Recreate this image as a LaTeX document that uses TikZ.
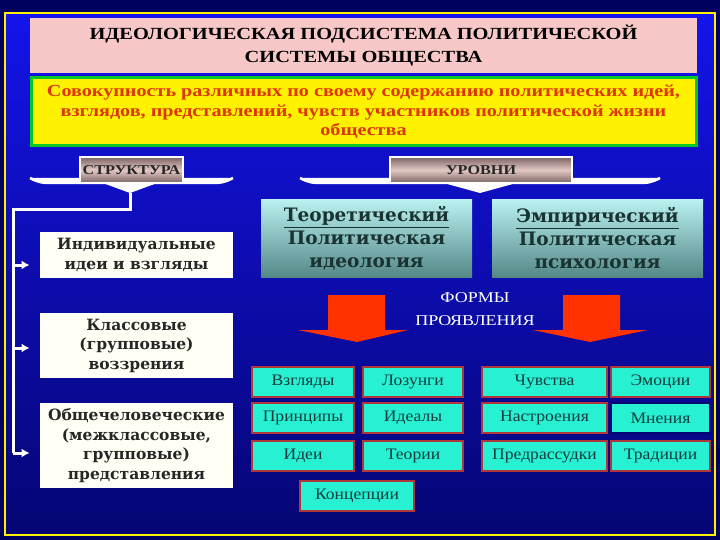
\documentclass[tikz,border=0pt]{standalone}
\usepackage{fontspec}
\setmainfont{Liberation Serif}
\newfontfamily\wideserif[FakeStretch=1.2]{Liberation Serif}
\newfontfamily\cellserif[FakeStretch=1.1]{Liberation Serif}
\newfontfamily\slabserif{DejaVu Serif}
\usetikzlibrary{arrows.meta}
\definecolor{outerblue}{RGB}{0,0,95}
\definecolor{topblue}{RGB}{20,20,235}
\definecolor{botblue}{RGB}{5,5,115}
\definecolor{titlepink}{RGB}{248,200,200}
\definecolor{defgreen}{RGB}{0,200,40}
\definecolor{deftext}{RGB}{220,55,0}
\definecolor{tabdark}{RGB}{125,100,100}
\definecolor{tablight}{RGB}{225,200,195}
\definecolor{boxcream}{RGB}{255,255,245}
\definecolor{levtop}{RGB}{185,240,240}
\definecolor{levbot}{RGB}{85,135,135}
\definecolor{levtext}{RGB}{25,50,50}
\definecolor{arrred}{RGB}{255,50,0}
\definecolor{cellcyan}{RGB}{40,240,210}
\definecolor{cellred}{RGB}{175,55,55}
\definecolor{celltext}{RGB}{20,60,60}

\begin{document}
\begin{tikzpicture}[x=1pt,y=-1pt,style=thick,>={Latex[length=8pt,width=9pt]},
    tab/.style={draw=white,line width=1.5pt,top color=tabdark,bottom color=tabdark,middle color=tablight,
        minimum height=26pt,inner sep=0pt,text={black!85},font=\wideserif\bfseries\fontsize{13.5}{13.5}\selectfont},
    strbox/.style={fill=boxcream,minimum width=193pt,inner sep=0pt,align=center,text={black!85},
        font=\slabserif\bfseries\fontsize{15.5}{19.5}\selectfont},
    levbox/.style={top color=levtop,bottom color=levbot,minimum width=211pt,minimum height=77pt,inner sep=0pt,
        align=center,text=levtext,font=\slabserif\bfseries\fontsize{18.5}{23}\selectfont},
    cell/.style={draw=cellred,line width=2pt,fill=cellcyan,minimum height=30pt,inner sep=0pt,
        text=celltext,font=\cellserif\fontsize{16}{16}\selectfont},
    rail/.style={draw=white,line width=3pt},
    bracket/.style={draw=white,line width=2.5pt,fill=white}]

    \useasboundingbox (0,0) rectangle (720,540);
    \fill[outerblue] (0,0) rectangle (720,540);
    \shade[top color=topblue,bottom color=botblue] (5,13) rectangle (715,535);
    \draw[yellow,line width=1.5pt] (5,13) rectangle (715,535);

    \node[fill=titlepink,minimum width=667pt,minimum height=55pt,inner sep=0pt,align=center,
        font=\wideserif\bfseries\fontsize{17}{23}\selectfont] (TTL) at (363.5,45.5)
        {ИДЕОЛОГИЧЕСКАЯ ПОДСИСТЕМА ПОЛИТИЧЕСКОЙ\\СИСТЕМЫ ОБЩЕСТВА};
    \node[draw=defgreen,line width=3pt,fill=yellow,minimum width=665pt,minimum height=68pt,inner sep=0pt,
        align=center,text=deftext,font=\wideserif\bfseries\fontsize{16.8}{19.5}\selectfont] (DEF) at (363.5,112)
        {Совокупность различных по своему содержанию политических идей,\\
         взглядов, представлений, чувств участников политической жизни\\общества};

    \coordinate (SB) at (130,193);
    \coordinate (LB) at (480,193);
    \draw[bracket] (30,178) .. controls (40,183) .. (60,183) -- (203,183) .. controls (223,183) .. (233,178);
    \fill[white] (100,182) -- (160,182) -- (SB) -- cycle;
    \draw[bracket] (300,178) .. controls (310,183) .. (330,183) -- (630,183) .. controls (650,183) .. (660,178);
    \fill[white] (440,182) -- (520,182) -- (LB) -- cycle;

    \node[tab,minimum width=103pt] (STR) at (131.5,170) {СТРУКТУРА};
    \node[tab,minimum width=182pt] (LEV) at (481,170) {УРОВНИ};

    \node[strbox,minimum height=46pt] (IND) at (136.5,255) {Индивидуальные\\идеи и взгляды};
    \node[strbox,minimum height=65pt] (CLS) at (136.5,345.5) {Классовые\\(групповые)\\воззрения};
    \node[strbox,minimum height=85pt] (HUM) at (136.5,445.5) {Общечеловеческие\\(межклассовые,\\групповые)\\представления};

    \coordinate (RC) at (130,210);
    \coordinate (RT) at (13,210);
    \coordinate (R1) at (13,265);
    \coordinate (R2) at (13,348);
    \coordinate (R3) at (13,453);
    \draw[rail] (SB) -- (RC) -- (RT) -- (R3);
    \draw[rail,->,shorten >=10pt] (R1) -- (R1 -| IND.west);
    \draw[rail,->,shorten >=10pt] (R2) -- (R2 -| CLS.west);
    \draw[rail,->,shorten >=10pt] (R3) -- (R3 -| HUM.west);

    \node[levbox] (TEO) at (366.5,238.5) {\underline{Теоретический}\\Политическая\\идеология};
    \node[levbox] (EMP) at (597.5,238.5) {\underline{Эмпирический}\\Политическая\\психология};

    \fill[arrred] (328,295) -- (385,295) -- (385,330) -- (408,330) -- (357,342) -- (298,330) -- (328,330) -- cycle;
    \fill[arrred] (563,295) -- (620,295) -- (620,330) -- (648,330) -- (590,342) -- (533,330) -- (563,330) -- cycle;
    \node[text=white,align=center,font=\wideserif\fontsize{15}{23}\selectfont] (FRM) at (475,309) {ФОРМЫ\\ПРОЯВЛЕНИЯ};

    \node[cell,minimum width=102pt] (VZG) at (303,381.5) {Взгляды};
    \node[cell,minimum width=100pt] (LOZ) at (413,381.5) {Лозунги};
    \node[cell,minimum width=125pt] (CHU) at (544.5,381.5) {Чувства};
    \node[cell,minimum width=99pt] (EMO) at (660.5,381.5) {Эмоции};
    \node[cell,minimum width=102pt] (PRI) at (303,418) {Принципы};
    \node[cell,minimum width=100pt] (IDL) at (413,418) {Идеалы};
    \node[cell,minimum width=125pt] (NAS) at (544.5,418) {Настроения};
    \node[cell,minimum width=99pt,draw=botblue] (MNE) at (660.5,418) {Мнения};
    \node[cell,minimum width=102pt] (IDE) at (303,455.5) {Идеи};
    \node[cell,minimum width=100pt] (TEH) at (413,455.5) {Теории};
    \node[cell,minimum width=125pt] (PRE) at (544.5,455.5) {Предрассудки};
    \node[cell,minimum width=99pt] (TRA) at (660.5,455.5) {Традиции};
    \node[cell,minimum width=114pt] (KON) at (357,496) {Концепции};

\end{tikzpicture}
\end{document}
